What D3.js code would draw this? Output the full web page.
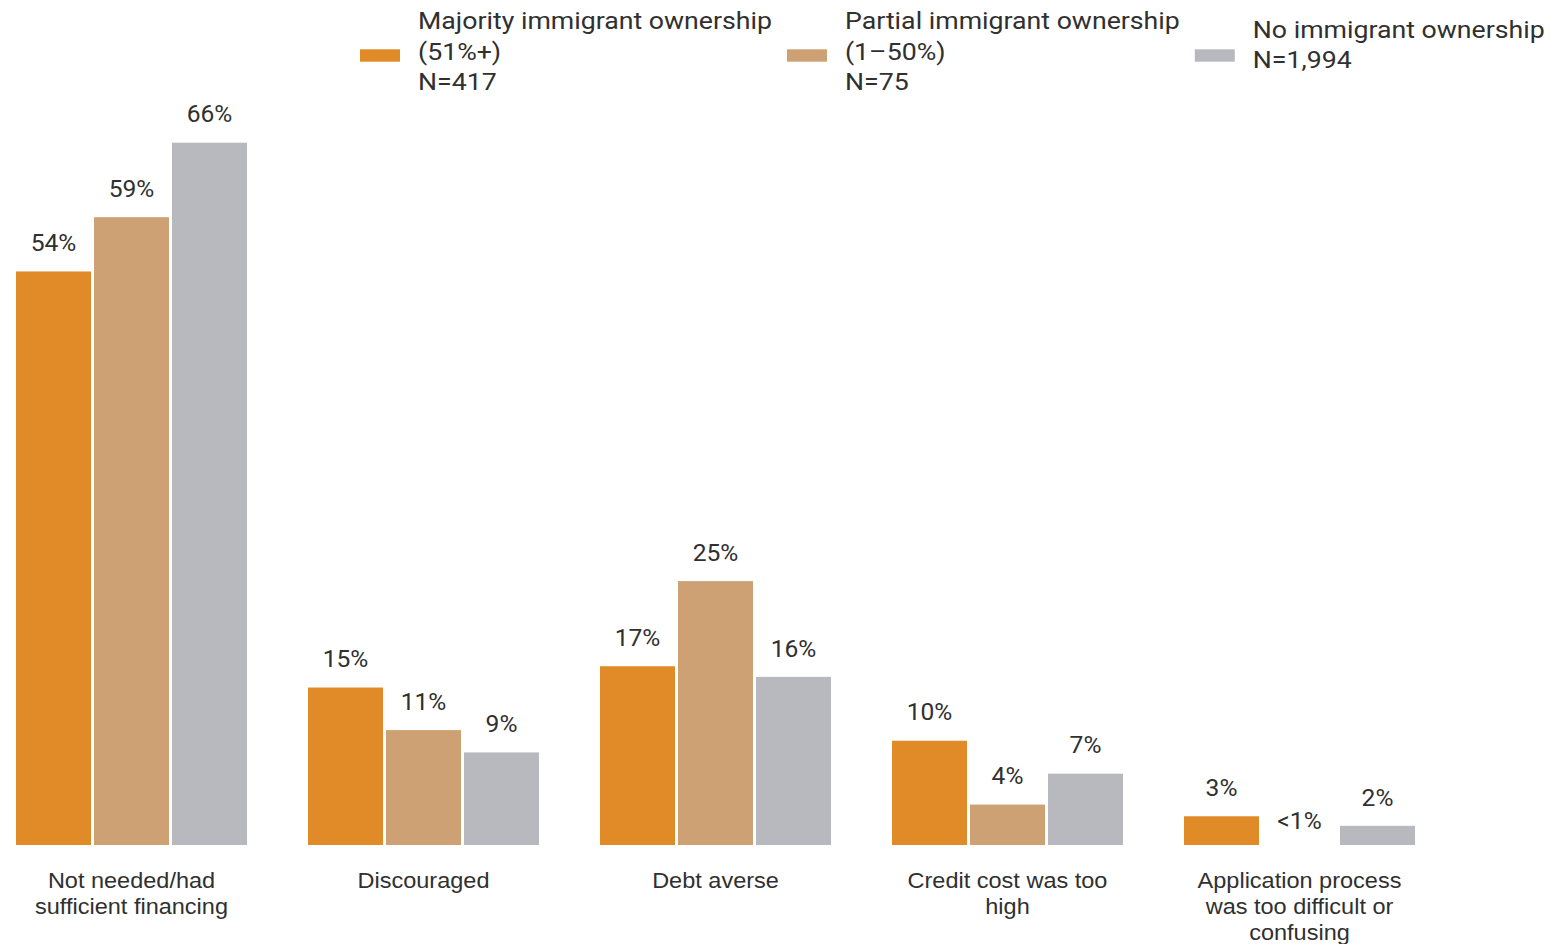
<!DOCTYPE html>
<html>
<head>
<meta charset="utf-8">
<script src="https://cdn.jsdelivr.net/npm/d3@7"></script>
<style>
  html, body { margin: 0; padding: 0; background: #fff; }
  svg { display: block; }
</style>
</head>
<body>
<svg id="chart" width="1550" height="944"></svg>
<script>
// ---- data ----
const categories = [
  "Not needed/had sufficient financing",
  "Discouraged",
  "Debt averse",
  "Credit cost was too high",
  "Application process was too difficult or confusing"
];
const categoryLines = [
  ["Not needed/had", "sufficient financing"],
  ["Discouraged"],
  ["Debt averse"],
  ["Credit cost was too", "high"],
  ["Application process", "was too difficult or", "confusing"]
];
const seriesNames = ["majority", "partial", "none"];
const legendLines = [
  ["Majority immigrant ownership", "(51%+)", "N=417"],
  ["Partial immigrant ownership", "(1\u201350%)", "N=75"],
  ["No immigrant ownership", "N=1,994"]
];
const majorityValues = [53.9, 14.8, 16.8, 9.8, 2.7];
const partialValues  = [59.0, 10.8, 24.8, 3.8, 0];
const noneValues     = [66.0, 8.7, 15.8, 6.7, 1.8];
const majorityLabels = ["54%", "15%", "17%", "10%", "3%"];
const partialLabels  = ["59%", "11%", "25%", "4%", "<1%"];
const noneLabels     = ["66%", "9%", "16%", "7%", "2%"];
const colors = ["#E08A28", "#CDA173", "#B8B9BE"];

const seriesValues = [majorityValues, partialValues, noneValues];
const seriesLabels = [majorityLabels, partialLabels, noneLabels];

// ---- layout ----
const svg = d3.select("#chart");
const textColor = "#303030";

const x0 = d3.scaleBand().domain(categories).range([16, 1415]).paddingInner(61 / 292).paddingOuter(0);
const x1 = d3.scaleBand().domain(seriesNames).range([0, x0.bandwidth()]).paddingInner(3 / 78).paddingOuter(0);
const y = d3.scaleLinear().domain([0, 66]).range([845, 142.7]);

const rows = categories.map((c, i) => ({
  cat: c,
  items: seriesNames.map((s, j) => ({ s, j, v: seriesValues[j][i], label: seriesLabels[j][i] }))
}));

const groups = svg.append("g").selectAll("g")
  .data(rows).join("g")
  .attr("transform", d => `translate(${x0(d.cat)},0)`);

groups.selectAll("rect")
  .data(d => d.items).join("rect")
  .attr("x", d => x1(d.s))
  .attr("y", d => y(d.v))
  .attr("width", x1.bandwidth())
  .attr("height", d => y(0) - y(d.v))
  .attr("fill", d => colors[d.j]);

groups.selectAll("g.val")
  .data(d => d.items).join("g")
  .attr("class", "val")
  .attr("transform", d => `translate(${x1(d.s) + x1.bandwidth() / 2},${y(d.v) - (d.v > 0 ? 20.3 : 16.5)}) scale(1.07,1)`)
  .append("text")
  .attr("text-anchor", "middle")
  .attr("font-family", "Roboto, sans-serif")
  .attr("font-size", 23)
  .attr("fill", textColor)
  .text(d => d.label);

// x-axis labels (via axis)
const xAxis = svg.append("g")
  .attr("transform", "translate(0,845)")
  .call(d3.axisBottom(x0).tickSize(0).tickFormat(""));
xAxis.select(".domain").remove();
xAxis.selectAll(".tick text").remove();
xAxis.selectAll(".tick").each(function(d, i) {
  const t = d3.select(this).append("g")
    .attr("transform", "scale(1.045,1)")
    .append("text")
    .attr("text-anchor", "middle")
    .attr("font-family", "'Liberation Sans', Arial, sans-serif")
    .attr("font-size", 22.5)
    .attr("fill", textColor);
  categoryLines[i].forEach((line, k) => {
    t.append("tspan").attr("x", 0).attr("y", 43.5 + k * 26).text(line);
  });
});

// ---- legend ----
const legend = svg.append("g");
const legendScale = 1.09;
let lx = 360;
legendLines.forEach((lines, i) => {
  const g = legend.append("g").attr("transform", `translate(${lx},0)`);
  g.append("rect").attr("x", 0).attr("y", 49.3).attr("width", 40).attr("height", 12.4).attr("fill", colors[i]);
  const firstBase = lines.length === 3 ? 29.3 : 37.8;
  const t = g.append("g")
    .attr("transform", `translate(58,0) scale(${legendScale},1)`)
    .append("text")
    .attr("font-family", "Roboto, sans-serif")
    .attr("font-size", 24.5)
    .attr("fill", textColor);
  lines.forEach((line, k) => {
    t.append("tspan").attr("x", 0).attr("y", firstBase + k * 30.5).text(line);
  });
  const w = d3.max(t.selectAll("tspan").nodes(), n => n.getComputedTextLength()) * legendScale;
  lx += 58 + w + 15;
});
</script>
</body>
</html>
